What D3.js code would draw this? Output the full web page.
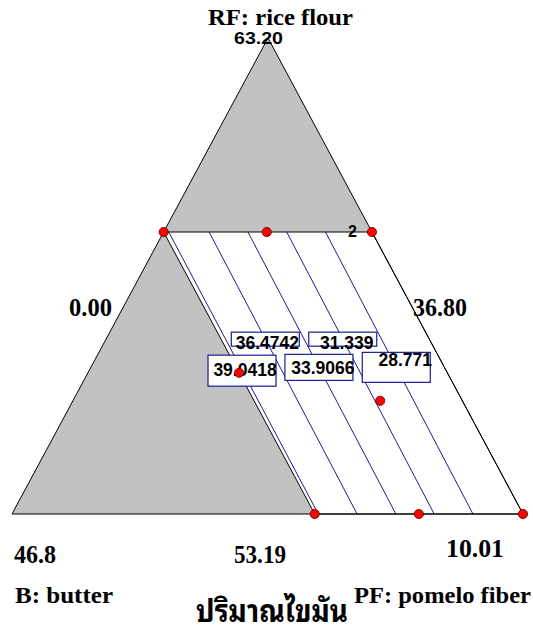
<!DOCTYPE html>
<html>
<head>
<meta charset="utf-8">
<script src="https://cdn.jsdelivr.net/npm/d3@7"></script>
<style>
  body { margin: 0; background: #ffffff; }
  svg { display: block; }
</style>
</head>
<body>
<svg id="chart" width="533" height="637"></svg>
<script>
// ---- Mixture components: each vertex is a component maximum, the opposite edge its minimum ----
const componentNames = ["RF: rice flour", "B: butter", "PF: pomelo fiber"];
const componentLow  = [53.19, 36.80, 0.00];   // RF, B, PF
const componentHigh = [63.20, 46.8, 10.01];
const lowLabels  = ["53.19", "36.80", "0.00"];
const highLabels = ["63.20", "46.8", "10.01"];

// ---- Constraints that bound the design space ----
const rfUpper = 59.12;
const bUpper = 40.88;

// ---- Design points [RF, B, PF] and their replicate counts ----
const designPoints = [
  [59.12, 40.88, 0.00],
  [59.12, 38.86, 2.02],
  [59.12, 36.80, 4.08],
  [53.19, 40.88, 5.93],
  [53.19, 38.84, 7.97],
  [53.19, 36.80, 10.01],
  [56.16, 40.88, 2.96],
  [55.57, 38.41, 6.02]
];
const replicates = [1, 1, 2, 1, 1, 1, 1, 1];

// ---- Fat content contours: level, PF where each line meets RF upper / RF lower bound ----
const contourLevels   = [39.0418, 36.4742, 33.9066, 31.339, 28.771];
const contourPFTop    = [0.10, 0.89, 1.65, 2.41, 3.17];
const contourPFBottom = [6.00, 6.76, 7.52, 8.27, 9.03];

const title = "ปริมาณไขมัน";

// ---- Ternary projection ----
const svg = d3.select("#chart");
const apex = [268, 38], left = [12, 514], right = [523, 514];
const rfScale = d3.scaleLinear().domain([componentLow[0], componentHigh[0]]).range([0, 1]);
const pfScale = d3.scaleLinear().domain([componentLow[2], componentHigh[2]]).range([0, 1]);
function project(rf, pf) {
  const a = rfScale(rf), c = pfScale(pf), b = 1 - a - c;
  return [a * apex[0] + b * left[0] + c * right[0],
          a * apex[1] + b * left[1] + c * right[1]];
}
const total = componentLow[0] + componentLow[1] + componentHigh[2];
const pfFor = (rf, b) => total - rf - b;

const line = d3.line();
const greyFill = "#c2c2c2";
const navy = "#1c1c8e";

// whole simplex shaded grey (infeasible)
svg.append("path")
  .attr("d", line([apex, left, right]) + "Z")
  .attr("fill", greyFill);

// feasible region: RF <= rfUpper, B <= bUpper
const region = [
  project(rfUpper, pfFor(rfUpper, bUpper)),
  project(rfUpper, pfFor(rfUpper, componentLow[1])),
  project(componentLow[0], pfFor(componentLow[0], componentLow[1])),
  project(componentLow[0], pfFor(componentLow[0], bUpper))
];
svg.append("path")
  .attr("d", line(region) + "Z")
  .attr("fill", "#ffffff")
  .attr("stroke", "#000")
  .attr("stroke-width", 1);

// contour lines
const contours = contourLevels.map((lvl, i) => ({
  level: lvl,
  p0: project(rfUpper, contourPFTop[i]),
  p1: project(componentLow[0], contourPFBottom[i])
}));
svg.append("g").selectAll("line").data(contours).join("line")
  .attr("x1", d => d.p0[0]).attr("y1", d => d.p0[1])
  .attr("x2", d => d.p1[0]).attr("y2", d => d.p1[1])
  .attr("stroke", navy).attr("stroke-width", 1);

// simplex outline
svg.append("path")
  .attr("d", line([apex, left, right]) + "Z")
  .attr("fill", "none")
  .attr("stroke", "#000")
  .attr("stroke-width", 1);

// contour labels (alternating heights along the lines)
const labelT = [0.49, 0.38, 0.48, 0.38, 0.48];
const boxH   = [31, 14, 26, 14, 30];
const boxDy  = [-15, -7, -13, -7, -15];
const textDx = [3, 2, 4, 4, 9];
const textDy = [6, 10, 7, 10, -1];
const lab = svg.append("g");
contours.forEach((d, i) => {
  const t = labelT[i];
  const cx = d.p0[0] + t * (d.p1[0] - d.p0[0]);
  const cy = d.p0[1] + t * (d.p1[1] - d.p0[1]);
  lab.append("rect")
    .attr("x", cx - 34).attr("y", cy + boxDy[i])
    .attr("width", 68).attr("height", boxH[i])
    .attr("fill", "#fff").attr("stroke", navy).attr("stroke-width", 1.2);
  lab.append("text")
    .attr("x", cx + textDx[i]).attr("y", cy + textDy[i])
    .attr("text-anchor", "middle")
    .attr("font-family", "'Liberation Sans', Arial, sans-serif")
    .attr("font-weight", "bold").attr("font-size", 17.5)
    .attr("fill", "#000")
    .text(String(d.level));
});

// design points
const pts = svg.append("g");
designPoints.forEach((p, i) => {
  const [x, y] = project(p[0], p[2]);
  pts.append("circle")
    .attr("cx", x).attr("cy", y).attr("r", 4.6)
    .attr("fill", "#ff0000").attr("stroke", "#5a0000").attr("stroke-width", 0.8);
  if (replicates[i] > 1) {
    pts.append("text")
      .attr("x", x - 15).attr("y", y + 5)
      .attr("text-anchor", "end")
      .attr("font-family", "'Liberation Sans', Arial, sans-serif")
      .attr("font-weight", "bold").attr("font-size", 16)
      .text(String(replicates[i]));
  }
});

// axis texts
const serif = "'Liberation Serif', 'Times New Roman', serif";
function label(txt, x, y, w, size, family) {
  svg.append("text")
    .attr("x", x).attr("y", y)
    .attr("font-family", family || serif)
    .attr("font-weight", "bold").attr("font-size", size)
    .attr("textLength", w).attr("lengthAdjust", "spacingAndGlyphs")
    .attr("fill", "#000")
    .text(txt);
}
label(componentNames[0], 208, 25, 145, 23);
label(highLabels[0], 234, 44, 49, 17, "'Liberation Sans', Arial, sans-serif");
label(lowLabels[2], 69, 316, 43, 25);
label(lowLabels[1], 413, 316, 54, 25);
label(highLabels[1], 14, 563, 42, 25);
label(lowLabels[0], 234, 563, 52, 25);
label(highLabels[2], 446, 557, 58, 25);
label(componentNames[1], 15, 603, 98, 24);
label(componentNames[2], 354, 603, 177, 24);

svg.append("text")
  .attr("x", 272).attr("y", 622)
  .attr("text-anchor", "middle")
  .attr("font-family", "'Noto Sans Thai Looped', 'Noto Serif Thai', Loma, Garuda, 'Noto Sans Thai', 'DejaVu Sans', sans-serif")
  .attr("font-weight", "bold").attr("font-size", 31)
  .attr("textLength", 152).attr("lengthAdjust", "spacingAndGlyphs")
  .attr("fill", "#000")
  .text(title);
</script>
</body>
</html>
